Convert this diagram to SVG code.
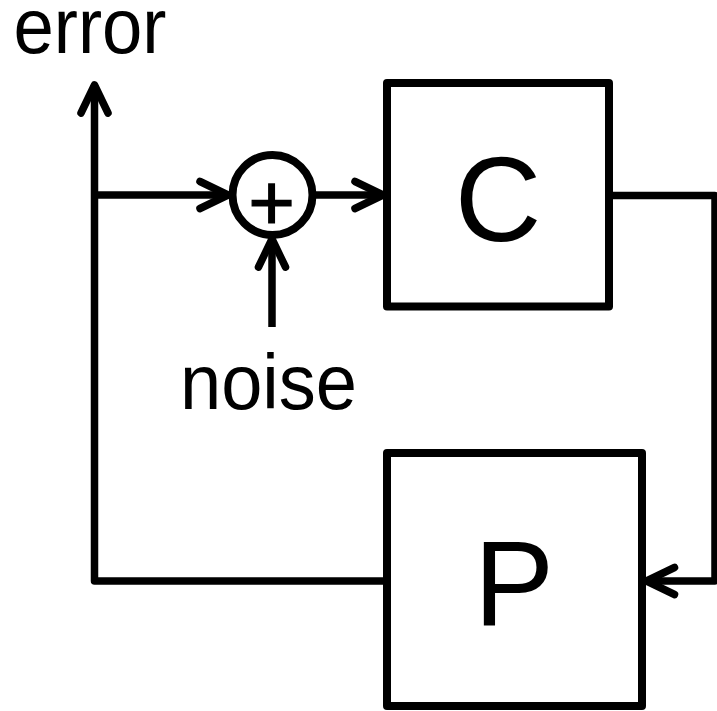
<svg xmlns="http://www.w3.org/2000/svg" width="717" height="711" viewBox="0 0 717 711">
  <style>
    .wire { fill: none; stroke: #000; stroke-width: 7.5; stroke-linejoin: round; }
    .box { fill: #fff; stroke: #000; stroke-width: 8; stroke-linejoin: round; }
    .sum { fill: #fff; stroke: #000; stroke-width: 8; }
    .lbl { font-family: "Liberation Sans", Arial, sans-serif; fill: #000; }
  </style>
  <defs>
    <marker id="arrow" markerUnits="userSpaceOnUse" viewBox="-36 -20 40 40" refX="0" refY="0" markerWidth="40" markerHeight="40" orient="auto" overflow="visible">
      <path d="M-28,-13.5 L0,0 L-28,13.5" fill="none" stroke="#000" stroke-width="7.5" stroke-linecap="round" stroke-linejoin="round"/>
    </marker>
  </defs>
  <rect width="717" height="711" fill="#fff"/>

  <g id="connectors">
    <path class="wire" d="M387,581 H94.5 V85" marker-end="url(#arrow)"/>
    <path class="wire" d="M94.5,195 H228" marker-end="url(#arrow)"/>
    <path class="wire" d="M316,195 H383" marker-end="url(#arrow)"/>
    <path class="wire" d="M272,327 V239" marker-end="url(#arrow)"/>
    <path class="wire" d="M609,195.5 H715 V581 H646.5" marker-end="url(#arrow)"/>
  </g>

  <g id="sum">
    <circle class="sum" cx="272.5" cy="195" r="40"/>
    <text class="lbl" x="271.5" y="229.5" font-size="80" text-anchor="middle" stroke="#000" stroke-width="1.2">+</text>
  </g>

  <g id="C">
    <rect class="box" x="387" y="83" width="222" height="223.5"/>
    <text class="lbl" x="498" y="240.5" font-size="120" text-anchor="middle">C</text>
  </g>

  <g id="P">
    <rect class="box" x="387" y="453" width="255" height="253"/>
    <text class="lbl" x="514" y="625" font-size="120" text-anchor="middle">P</text>
  </g>

  <g id="error-label">
    <text class="lbl" x="13.5" y="53" font-size="77" textLength="153" lengthAdjust="spacingAndGlyphs">error</text>
  </g>

  <g id="noise-label">
    <text class="lbl" x="180" y="409" font-size="77" textLength="177" lengthAdjust="spacingAndGlyphs">noise</text>
  </g>
</svg>
